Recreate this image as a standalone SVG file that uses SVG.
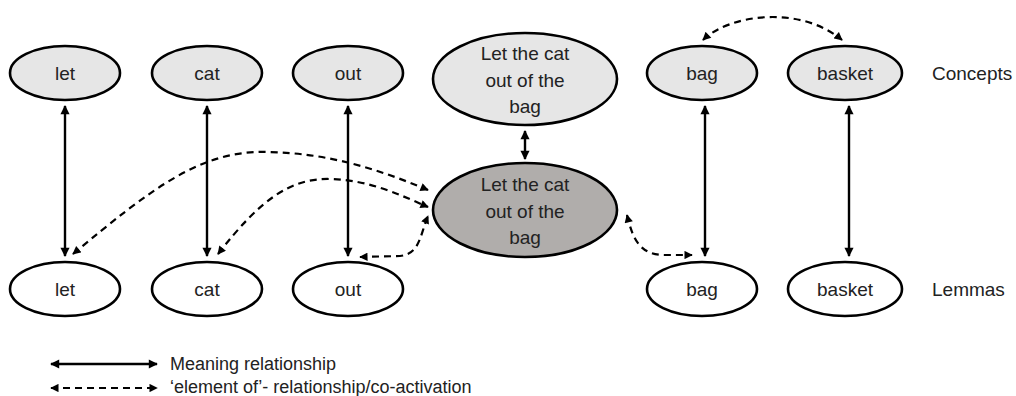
<svg xmlns="http://www.w3.org/2000/svg" width="1016" height="396" viewBox="0 0 1016 396">
<style>
.node ellipse{stroke:#000;stroke-width:2.6}
.concept ellipse{fill:#e6e6e6}
.lemma ellipse{fill:#fff}
.phrase ellipse{fill:#b0adab}
text{font-family:"Liberation Sans",Arial,sans-serif;font-size:19px;fill:#222;text-anchor:middle}
.side{text-anchor:start}
.solid{stroke:#000;stroke-width:2.4;fill:none;marker-start:url(#ah);marker-end:url(#ah)}
.dash{stroke:#000;stroke-width:2.2;fill:none;stroke-dasharray:7 5;marker-start:url(#ah);marker-end:url(#ah)}
</style>
<defs>
<marker id="ah" viewBox="0 0 10 10" refX="9" refY="5" markerWidth="4.2" markerHeight="3.8" orient="auto-start-reverse" markerUnits="strokeWidth">
<path d="M0 0 L10 5 L0 10 z" fill="#000"/>
</marker>
</defs>
<rect width="1016" height="396" fill="#fff"/>
<g id="connectors">
<line class="solid" x1="65" y1="106" x2="65" y2="256"/>
<line class="solid" x1="207" y1="106" x2="207" y2="256"/>
<line class="solid" x1="348" y1="106" x2="348" y2="256"/>
<line class="solid" x1="705" y1="106" x2="705" y2="256"/>
<line class="solid" x1="849" y1="106" x2="849" y2="256"/>
<line class="solid" x1="525" y1="131" x2="525" y2="159"/>
<path class="dash" d="M73 254 C150 190 200 150 267 152 C330 153 380 170 428 190"/>
<path class="dash" d="M218 254 C260 200 290 178 330 179 C370 180 400 195 428 207"/>
<path class="dash" d="M360 257 L400 256 C420 254 420 235 428 216"/>
<path class="dash" d="M627 215 C633 240 640 255 665 255 L692 255"/>
<path class="dash" d="M703 40 C730 14 800 5 842 40"/>
<line class="solid" x1="51" y1="364" x2="157" y2="364"/>
<line class="dash" x1="51" y1="388" x2="157" y2="388"/>
</g>
<g id="c-let" class="node concept"><ellipse cx="65" cy="73" rx="55" ry="27"/><text x="65" y="80">let</text></g>
<g id="c-cat" class="node concept"><ellipse cx="207" cy="73" rx="55" ry="27"/><text x="207" y="80">cat</text></g>
<g id="c-out" class="node concept"><ellipse cx="348" cy="73" rx="55" ry="27"/><text x="348" y="80">out</text></g>
<g id="c-phrase" class="node concept"><ellipse cx="525" cy="79" rx="92" ry="46"/><text x="525" y="60">Let the cat</text><text x="525" y="87">out of the</text><text x="525" y="113">bag</text></g>
<g id="c-bag" class="node concept"><ellipse cx="702" cy="73" rx="55" ry="27"/><text x="702" y="80">bag</text></g>
<g id="c-basket" class="node concept"><ellipse cx="845" cy="73" rx="57" ry="27"/><text x="845" y="80">basket</text></g>
<g id="l-phrase" class="node phrase"><ellipse cx="525" cy="210" rx="92" ry="47"/><text x="525" y="191">Let the cat</text><text x="525" y="218">out of the</text><text x="525" y="244">bag</text></g>
<g id="l-let" class="node lemma"><ellipse cx="65" cy="289" rx="55" ry="27"/><text x="65" y="296">let</text></g>
<g id="l-cat" class="node lemma"><ellipse cx="207" cy="289" rx="55" ry="27"/><text x="207" y="296">cat</text></g>
<g id="l-out" class="node lemma"><ellipse cx="348" cy="289" rx="55" ry="27"/><text x="348" y="296">out</text></g>
<g id="l-bag" class="node lemma"><ellipse cx="702" cy="289" rx="55" ry="27"/><text x="702" y="296">bag</text></g>
<g id="l-basket" class="node lemma"><ellipse cx="845" cy="289" rx="57" ry="27"/><text x="845" y="296">basket</text></g>
<text class="side" x="932" y="80">Concepts</text>
<text class="side" x="932" y="296">Lemmas</text>
<text class="side" x="170" y="370" style="font-size:18px">Meaning relationship</text>
<text class="side" x="170" y="393" style="font-size:18px">‘element of’- relationship/co-activation</text>
</svg>
